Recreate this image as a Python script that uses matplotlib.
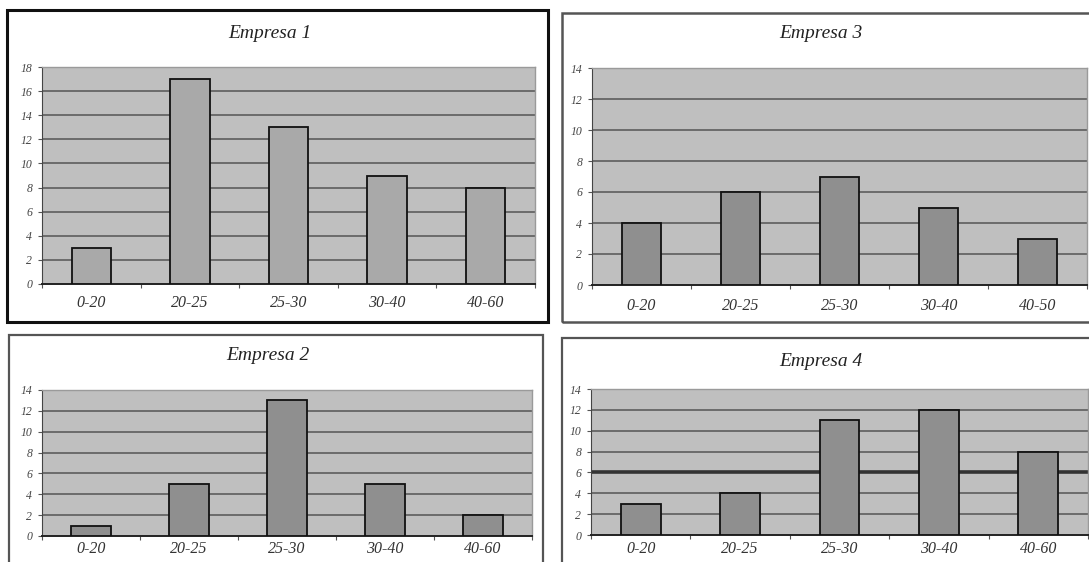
import matplotlib
matplotlib.use("Agg")
import matplotlib.pyplot as plt
from matplotlib.patches import Rectangle
import numpy as np

W, H = 1089, 562

cats_a = ['0-20', '20-25', '25-30', '30-40', '40-60']
cats_b = ['0-20', '20-25', '25-30', '30-40', '40-50']

empresa1 = [3, 17, 13, 9, 8]
empresa2 = [1, 5, 13, 5, 2]
empresa3 = [4, 6, 7, 5, 3]
empresa4 = [3, 4, 11, 12, 8]

titles = ['Empresa 1', 'Empresa 2', 'Empresa 3', 'Empresa 4']

plt.rcParams['font.family'] = ['Liberation Serif', 'DejaVu Serif']

fig = plt.figure(figsize=(W / 100, H / 100), dpi=100)
fig.patch.set_facecolor('white')


def px_rect(x0, y0, x1, y1):
    # pixel box (top-down) -> figure fraction
    return [x0 / W, 1 - y1 / H, (x1 - x0) / W, (y1 - y0) / H]


def frame(x0, y0, x1, y1, lw, color):
    r = Rectangle((x0 / W, 1 - y1 / H), (x1 - x0) / W, (y1 - y0) / H,
                  transform=fig.transFigure, fill=False, lw=lw,
                  edgecolor=color, clip_on=False)
    fig.add_artist(r)


def panel(box, values, cats, ymax, title, title_xy, barcolor, label_y, thick=None):
    ax = fig.add_axes(px_rect(*box))
    ax.set_facecolor('#bfbfbf')
    x = np.arange(len(values))
    yt = np.arange(0, ymax + 1, 2)
    for v in yt[1:]:
        lw = 2.6 if thick is not None and v == thick else 1.1
        col = '#333333' if thick is not None and v == thick else '#555555'
        ax.axhline(v, color=col, lw=lw, zorder=1)
    ax.bar(x, values, width=0.4, color=barcolor, edgecolor='#111111',
           linewidth=1.3, zorder=3)
    ax.set_xlim(-0.5, len(values) - 0.5)
    ax.set_ylim(0, ymax)
    ax.set_yticks(yt)
    ax.set_yticklabels([str(v) for v in yt], fontsize=8.5, style='italic',
                       color='#444444')
    ax.tick_params(axis='y', length=3, width=0.8, color='#555555', pad=4)
    ax.set_xticks(x)
    ax.set_xticklabels([])
    ax.set_xticks(np.arange(-0.5, len(values), 1.0), minor=True)
    ax.tick_params(axis='x', which='major', length=0)
    ax.tick_params(axis='x', which='minor', length=3, width=0.8, color='#555555')
    for xi, c in zip(x, cats):
        ax.annotate(c, xy=(xi, 0), xycoords='data',
                    xytext=(0, -label_y), textcoords='offset pixels',
                    ha='center', va='center', fontsize=11.5, style='italic',
                    color='#333333', annotation_clip=False)
    for s in ['top', 'right']:
        ax.spines[s].set_color('#9a9a9a')
        ax.spines[s].set_linewidth(1.0)
    ax.spines['left'].set_color('#444444')
    ax.spines['bottom'].set_color('#222222')
    ax.spines['bottom'].set_linewidth(1.4)
    fig.text(title_xy[0] / W, 1 - title_xy[1] / H, title, ha='center',
             va='center', fontsize=14, style='italic', color='#222222')
    return ax


# frames
frame(7, 10, 548, 322, 2.2, '#111111')
frame(562, 13, 1100, 322, 1.8, '#555555')
frame(9, 335, 543, 575, 1.6, '#555555')
frame(562, 338, 1100, 575, 1.6, '#555555')

panel((42, 67, 535, 284), empresa1, cats_a, 18, titles[0], (270, 34),
      '#a9a9a9', 19)
panel((592, 68, 1087, 285), empresa3, cats_b, 14, titles[2], (821, 33),
      '#8f8f8f', 21)
panel((42, 390, 532, 536), empresa2, cats_a, 14, titles[1], (268, 356),
      '#8f8f8f', 13)
panel((591, 389, 1088, 535), empresa4, cats_a, 14, titles[3], (821, 361),
      '#8f8f8f', 14, thick=6)

fig.savefig("out.png", dpi=100)
